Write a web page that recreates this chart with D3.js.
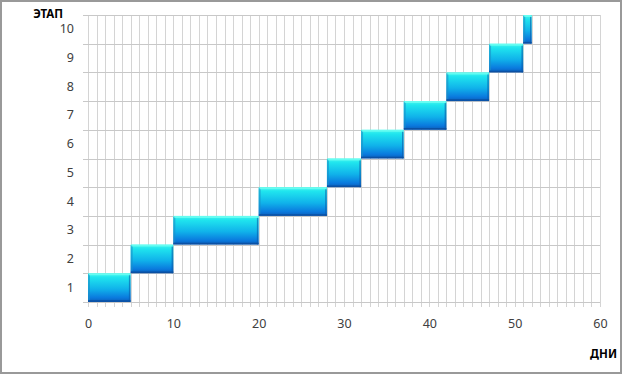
<!DOCTYPE html>
<html>
<head>
<meta charset="utf-8">
<script src="https://cdn.jsdelivr.net/npm/d3@7"></script>
<style>
  body { margin: 0; background: #fff; }
  text { font-family: "Noto Sans", "Open Sans", sans-serif; }
</style>
</head>
<body>
<div id="chart"></div>
<script>
// stages and their start / end day
var stages = ["1", "2", "3", "4", "5", "6", "7", "8", "9", "10"];
var startDays = [0, 5, 10, 20, 28, 32, 37, 42, 47, 51];
var endDays = [5, 10, 20, 28, 32, 37, 42, 47, 51, 52];
var xTicks = [0, 10, 20, 30, 40, 50, 60];

var width = 623;
var height = 375;
var margin = {top: 15, right: 23, bottom: 73, left: 88};

var svg = d3.select("#chart")
            .append("svg")
            .attr("width", width)
            .attr("height", height);

// outer frame
svg.append("rect")
   .attr("x", 1).attr("y", 1)
   .attr("width", 620).attr("height", 372)
   .attr("fill", "none")
   .attr("stroke", "#999")
   .attr("stroke-width", 2);

var x = d3.scaleLinear()
          .domain([0, 60])
          .range([margin.left, width - margin.right]);

var y = d3.scaleBand()
          .domain(stages.slice().reverse())
          .range([margin.top, height - margin.bottom])
          .padding(0);

// gradient for the bars
var defs = svg.append("defs");
var grad = defs.append("linearGradient")
               .attr("id", "barGrad")
               .attr("x1", 0).attr("y1", 0)
               .attr("x2", 0).attr("y2", 1);
grad.append("stop").attr("offset", "0%").attr("stop-color", "#44f8ee");
grad.append("stop").attr("offset", "15%").attr("stop-color", "#1fe4ee");
grad.append("stop").attr("offset", "55%").attr("stop-color", "#10b2ea");
grad.append("stop").attr("offset", "85%").attr("stop-color", "#0a7ade");
grad.append("stop").attr("offset", "100%").attr("stop-color", "#0b5cb8");

var g = svg.append("g");

// vertical gridlines every day, with small tick below
var days = d3.range(0, 61);
g.selectAll(".vgrid")
 .data(days)
 .enter()
 .append("line")
 .attr("class", "vgrid")
 .attr("x1", function(d) { return Math.round(x(d)) + 0.5; })
 .attr("x2", function(d) { return Math.round(x(d)) + 0.5; })
 .attr("y1", margin.top)
 .attr("y2", height - margin.bottom + 5)
 .attr("stroke", "#d4d4d4")
 .attr("stroke-width", 1);

// horizontal gridlines at band borders
var borders = stages.map(function(s) { return y(s); });
borders.push(height - margin.bottom);
g.selectAll(".hgrid")
 .data(borders)
 .enter()
 .append("line")
 .attr("class", "hgrid")
 .attr("x1", margin.left - 5)
 .attr("x2", width - margin.right)
 .attr("y1", function(d) { return Math.round(d) + 0.5; })
 .attr("y2", function(d) { return Math.round(d) + 0.5; })
 .attr("stroke", "#c8c8c8")
 .attr("stroke-width", 1);

// bars
var bars = g.selectAll(".bar")
            .data(stages)
            .enter()
            .append("g")
            .attr("class", "bar");

bars.append("rect")
    .attr("x", function(d, i) { return x(startDays[i]); })
    .attr("y", function(d) { return y(d); })
    .attr("width", function(d, i) { return x(endDays[i]) - x(startDays[i]); })
    .attr("height", y.bandwidth())
    .attr("fill", "url(#barGrad)");

// bevel: light top edge, darker left/right/bottom edges
bars.append("line")
    .attr("x1", function(d, i) { return x(startDays[i]) + 1; })
    .attr("x2", function(d, i) { return x(startDays[i]) + 1; })
    .attr("y1", function(d) { return y(d) + 1; })
    .attr("y2", function(d) { return y(d) + y.bandwidth() - 2; })
    .attr("stroke", "#1a8fc8")
    .attr("stroke-opacity", 0.6)
    .attr("stroke-width", 2);
bars.append("line")
    .attr("x1", function(d, i) { return x(startDays[i]) + 1; })
    .attr("x2", function(d, i) { return x(endDays[i]) - 1; })
    .attr("y1", function(d) { return y(d) + 1; })
    .attr("y2", function(d) { return y(d) + 1; })
    .attr("stroke", "#70fff2")
    .attr("stroke-opacity", 0.8)
    .attr("stroke-width", 2);
bars.append("line")
    .attr("x1", function(d, i) { return x(endDays[i]) - 1; })
    .attr("x2", function(d, i) { return x(endDays[i]) - 1; })
    .attr("y1", function(d) { return y(d) + 2; })
    .attr("y2", function(d) { return y(d) + y.bandwidth(); })
    .attr("stroke", "#0a5aa8")
    .attr("stroke-opacity", 0.6)
    .attr("stroke-width", 1.5);
bars.append("line")
    .attr("x1", function(d, i) { return x(startDays[i]); })
    .attr("x2", function(d, i) { return x(endDays[i]); })
    .attr("y1", function(d) { return y(d) + y.bandwidth() - 1; })
    .attr("y2", function(d) { return y(d) + y.bandwidth() - 1; })
    .attr("stroke", "#0b4c9c")
    .attr("stroke-opacity", 0.8)
    .attr("stroke-width", 1.5);

// x axis labels
var xAxis = d3.axisBottom(x)
              .tickValues(xTicks)
              .tickSize(0)
              .tickPadding(17);
svg.append("g")
   .attr("transform", "translate(0," + (height - margin.bottom) + ")")
   .call(xAxis)
   .call(function(a) { a.select(".domain").remove(); })
   .selectAll("text")
   .attr("font-size", 12.5)
   .attr("fill", "#404040")
   .style("font-family", "'Noto Sans', sans-serif");

// y axis labels
var yAxis = d3.axisLeft(y)
              .tickSize(0)
              .tickPadding(14);
svg.append("g")
   .attr("transform", "translate(" + margin.left + ",0)")
   .call(yAxis)
   .call(function(a) { a.select(".domain").remove(); })
   .selectAll("text")
   .attr("font-size", 12.5)
   .attr("fill", "#404040")
   .style("font-family", "'Noto Sans', sans-serif");

// axis titles
svg.append("text")
   .attr("x", 63)
   .attr("y", 18)
   .attr("text-anchor", "end")
   .attr("font-size", 11.5)
   .attr("font-weight", "bold")
   .attr("fill", "#000")
   .text("ЭТАП");

svg.append("text")
   .attr("x", 617)
   .attr("y", 358)
   .attr("text-anchor", "end")
   .attr("font-size", 11.5)
   .attr("font-weight", "bold")
   .attr("fill", "#000")
   .text("ДНИ");
</script>
</body>
</html>
